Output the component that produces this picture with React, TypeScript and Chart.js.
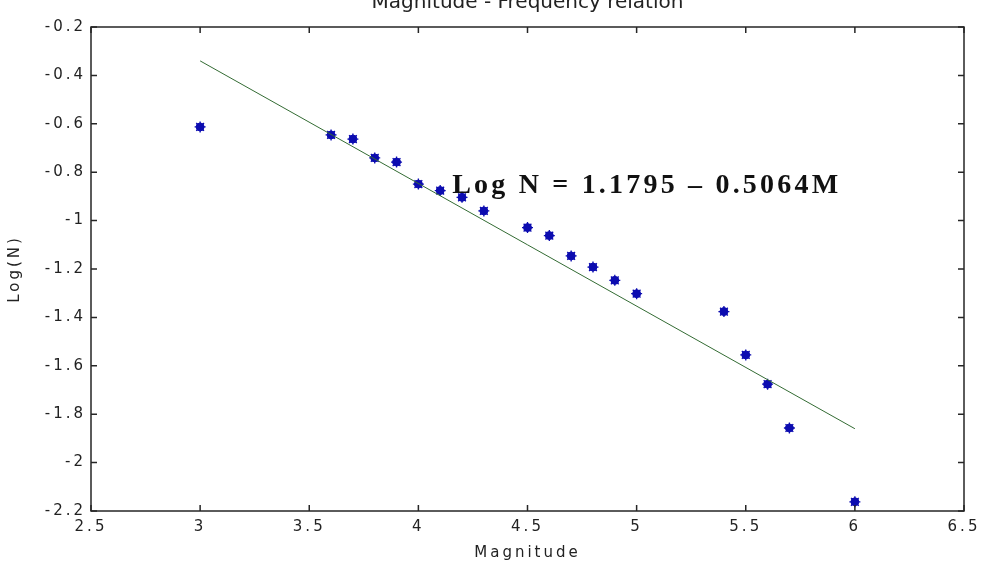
import React, { useEffect, useRef } from "react";
import { Chart, registerables } from "chart.js";

Chart.register(...registerables);

// ---- data ----
const magnitudes = [3.0, 3.6, 3.7, 3.8, 3.9, 4.0, 4.1, 4.2, 4.3, 4.5, 4.6, 4.7, 4.8, 4.9, 5.0, 5.4, 5.5, 5.6, 5.7, 6.0];
const logN = [-0.613, -0.646, -0.663, -0.741, -0.758, -0.849, -0.876, -0.904, -0.96, -1.029, -1.062, -1.146, -1.192, -1.247, -1.302, -1.376, -1.555, -1.676, -1.857, -2.162];
const fitMagnitudes = [3, 6];
const fitLogN = [-0.34, -1.86];
const xTickValues = [2.5, 3, 3.5, 4, 4.5, 5, 5.5, 6, 6.5];
const yTickValues = [-0.2, -0.4, -0.6, -0.8, -1, -1.2, -1.4, -1.6, -1.8, -2, -2.2];
const chartTitle = "Magnitude - Frequency relation";
const xTitle = "Magnitude";
const yTitle = "Log(N)";
const equation = "Log N = 1.1795 \u2013 0.5064M";
const equationAt = { x: 4.155, y: -0.885 };

const TEXT = "#222222";
const AXIS = "#262626";
const BLUE = "#0c0cb0";
const GREEN = "#336b33";
const FONT = '"DejaVu Sans"';

const matlabPlugin = {
  id: "matlabBox",
  beforeUpdate(chart: any) {
    chart.ctx.letterSpacing = "3px";
  },
  beforeLayout(chart: any) {
    chart.ctx.letterSpacing = "3px";
  },
  beforeDraw(chart: any) {
    chart.ctx.letterSpacing = "3px";
  },
  afterDraw(chart: any) {
    const { ctx, chartArea, scales } = chart;
    const { left, right, top, bottom } = chartArea;
    const xs = scales.x;
    const ys = scales.y;
    ctx.save();
    ctx.strokeStyle = AXIS;
    ctx.lineWidth = 1.5;
    ctx.strokeRect(left, top, right - left, bottom - top);
    const tl = 6;
    ctx.beginPath();
    xTickValues.forEach((v) => {
      const px = xs.getPixelForValue(v);
      ctx.moveTo(px, bottom);
      ctx.lineTo(px, bottom - tl);
      ctx.moveTo(px, top);
      ctx.lineTo(px, top + tl);
    });
    yTickValues.forEach((v) => {
      const py = ys.getPixelForValue(v);
      ctx.moveTo(left, py);
      ctx.lineTo(left + tl, py);
      ctx.moveTo(right, py);
      ctx.lineTo(right - tl, py);
    });
    ctx.stroke();

    // title (top clipped by the page edge, as in the reference)
    ctx.letterSpacing = "0px";
    ctx.font = `20px ${FONT}`;
    ctx.fillStyle = TEXT;
    ctx.textAlign = "center";
    ctx.textBaseline = "alphabetic";
    ctx.fillText(chartTitle, (left + right) / 2, top - 19.5);

    // equation annotation
    ctx.letterSpacing = "3.2px";
    ctx.font = 'bold 28px "Liberation Serif"';
    ctx.fillStyle = "#111111";
    ctx.textAlign = "left";
    ctx.fillText(equation, xs.getPixelForValue(equationAt.x), ys.getPixelForValue(equationAt.y));
    ctx.restore();
    ctx.letterSpacing = "3px";
  },
};

export default function App() {
  const canvasRef = useRef<HTMLCanvasElement | null>(null);

  useEffect(() => {
    const canvas = canvasRef.current;
    if (!canvas) return;
    const points = magnitudes.map((m, i) => ({ x: m, y: logN[i] }));
    const fit = fitMagnitudes.map((m, i) => ({ x: m, y: fitLogN[i] }));
    const chart = new Chart(canvas, {
      type: "scatter",
      data: {
        datasets: [
          {
            label: "fit",
            data: fit,
            showLine: true,
            borderColor: GREEN,
            borderWidth: 1,
            pointRadius: 0,
            fill: false,
          } as any,
          {
            label: "data",
            data: points,
            pointStyle: "circle",
            pointRadius: 4,
            backgroundColor: BLUE,
            borderColor: BLUE,
            borderWidth: 1,
          },
          {
            label: "data-star",
            data: points,
            pointStyle: "star",
            pointRadius: 5.5,
            backgroundColor: BLUE,
            borderColor: BLUE,
            borderWidth: 1.3,
          },
        ],
      },
      options: {
        animation: false,
        responsive: false,
        events: [],
        layout: { padding: { left: 0, right: 18, top: 47, bottom: 0 } },
        plugins: {
          legend: { display: false },
          tooltip: { enabled: false },
          title: { display: false },
        },
        scales: {
          x: {
            type: "linear",
            min: 2.5,
            max: 6.5,
            afterBuildTicks: (scale: any) => {
              scale.ticks = xTickValues.map((v) => ({ value: v }));
            },
            afterFit: (scale: any) => {
              scale.height = 54;
              scale.paddingLeft = 0;
              scale.paddingRight = 0;
            },
            grid: { display: false, drawTicks: false },
            border: { display: false },
            ticks: {
              autoSkip: false,
              maxRotation: 0,
              padding: 7,
              color: TEXT,
              font: { family: FONT, size: 15 },
              callback: (v: any) => String(v),
            },
            title: {
              display: true,
              text: xTitle,
              color: TEXT,
              font: { family: FONT, size: 15 },
              padding: { top: 0, bottom: 3 },
            },
          },
          y: {
            type: "linear",
            min: -2.2,
            max: -0.2,
            afterBuildTicks: (scale: any) => {
              scale.ticks = yTickValues.map((v) => ({ value: v }));
            },
            afterFit: (scale: any) => {
              scale.width = 91;
              scale.paddingTop = 0;
              scale.paddingBottom = 0;
            },
            grid: { display: false, drawTicks: false },
            border: { display: false },
            ticks: {
              autoSkip: false,
              padding: 5,
              color: TEXT,
              font: { family: FONT, size: 15 },
              callback: (v: any) => String(v),
            },
            title: {
              display: true,
              text: yTitle,
              color: TEXT,
              font: { family: FONT, size: 15 },
              padding: { top: 6, bottom: 0 },
            },
          },
        },
      } as any,
      plugins: [matlabPlugin as any],
    });
    return () => chart.destroy();
  }, []);

  return (
    <div style={{ position: "fixed", left: 0, top: -20, width: 982, height: 585, background: "#ffffff" }}>
      <canvas ref={canvasRef} width={982} height={585} style={{ display: "block" }} />
    </div>
  );
}
